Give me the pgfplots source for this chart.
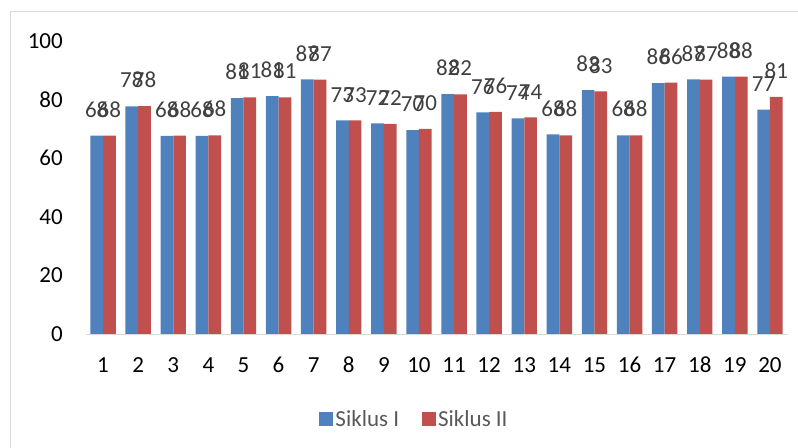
\documentclass[border=0pt]{standalone}
\usepackage{pgfplots}
\pgfplotsset{compat=1.18}
\usepackage{fontspec}
\setmainfont{Carlito}
\definecolor{sblue}{HTML}{4F81BD}
\definecolor{sred}{HTML}{C0504D}
\definecolor{tick}{HTML}{595959}
\definecolor{lab}{HTML}{404040}
\definecolor{frame}{HTML}{D9D9D9}
\begin{document}
\begin{tikzpicture}
\path[use as bounding box] (0,0) rectangle (798bp,448bp);
\draw[frame, line width=1bp] (10bp,0) -- (10bp,436bp) -- (798bp,436bp);
\begin{axis}[
  at={(85.5bp,114bp)}, anchor=south west,
  scale only axis, width=702bp, height=293bp,
  xmin=0.5, xmax=20.5, ymin=0, ymax=100,
  ybar=0pt, bar width=12.7bp,
  xtick={1,...,20}, ytick={0,20,...,100},
  axis lines*=left,
  x axis line style={frame, line width=0.8bp, -},
  y axis line style={draw=none, -},
  major tick length=0pt,
  /pgf/number format/assume math mode=true,
  font=\fontsize{23bp}{27bp}\selectfont,
  xticklabel style={tick, anchor=base, inner sep=0pt, yshift=-38bp},
  yticklabel style={tick, anchor=east, inner sep=0pt, xshift=-22.5bp},
  nodes near coords={\pgfmathprintnumber[fixed,precision=0]{\pgfplotspointmeta}},
  every node near coord/.append style={lab, anchor=south, inner sep=0pt, yshift=18bp, font=\fontsize{23bp}{27bp}\selectfont},
  legend columns=2,
  legend style={at={(0.4687,-0.290)}, anchor=center, draw=none, fill=none,
    font=\fontsize{23bp}{27bp}\selectfont, text=tick,
    /tikz/every even column/.append style={column sep=21bp}},
  legend image code/.code={\fill[#1] (0bp,-7bp) rectangle (14bp,7bp);},
]
\addplot[fill=sblue, draw=none] coordinates {
(1,67.7) (2,77.7) (3,67.6) (4,67.6) (5,80.5) (6,81.2) (7,86.9) (8,72.9) (9,71.9) (10,69.6)
(11,81.9) (12,75.6) (13,73.6) (14,68.1) (15,83.2) (16,67.8) (17,85.6) (18,86.9) (19,87.8) (20,76.6)};
\addplot[fill=sred, draw=none] coordinates {
(1,67.7) (2,77.8) (3,67.7) (4,67.8) (5,80.8) (6,80.8) (7,86.8) (8,72.9) (9,71.7) (10,70.0)
(11,81.8) (12,75.8) (13,73.9) (14,67.8) (15,82.8) (16,67.8) (17,85.8) (18,86.8) (19,87.8) (20,80.9)};
\legend{Siklus I, Siklus II}
\end{axis}
\end{tikzpicture}
\end{document}
